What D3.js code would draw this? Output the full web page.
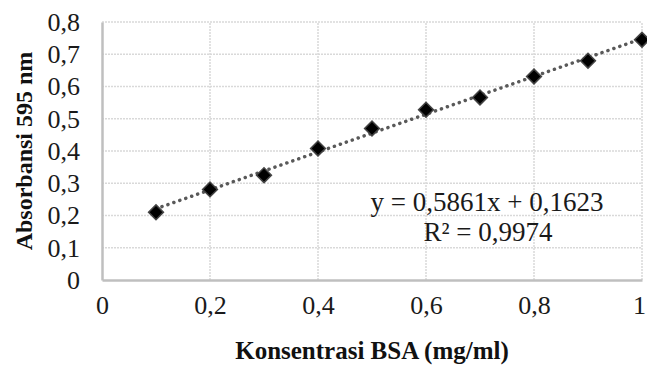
<!DOCTYPE html>
<html><head><meta charset="utf-8">
<script src="https://cdn.jsdelivr.net/npm/d3@7"></script>
<style>body{margin:0;background:#fff;font-family:"Liberation Serif",serif}</style>
</head><body>
<svg id="c" width="647" height="367" font-family="Liberation Serif"></svg>
<script>
const xValues = [0.1,0.2,0.3,0.4,0.5,0.6,0.7,0.8,0.9,1.0];
const yValues = [0.21,0.281,0.325,0.408,0.47,0.528,0.566,0.631,0.68,0.745];
const xTicks = [0,0.2,0.4,0.6,0.8,1];
const yTicks = [0,0.1,0.2,0.3,0.4,0.5,0.6,0.7,0.8];
const slope = 0.5861, intercept = 0.1623;
const eqLabel = "y = 0,5861x + 0,1623";
const r2Label = "R² = 0,9974";
const xTitle = "Konsentrasi BSA (mg/ml)";
const yTitle = "Absorbansi 595 nm";

const FONT = "'Liberation Serif', 'Times New Roman', serif";
const svg = d3.select("#c");
const m = {l:102, r:5, t:22, b:87};
const W = 647, H = 367;
const x = d3.scaleLinear().domain([0,1]).range([m.l, W-m.r]);
const y = d3.scaleLinear().domain([0,0.8]).range([H-m.b, m.t]);
const fmt = d => d===0 ? "0" : (d===1 ? "1" : d3.format(".1f")(d).replace(".",","));

// grid
svg.append("g").selectAll("line").data(yTicks.filter(d=>d>0)).join("line")
  .attr("x1",x(0)).attr("x2",x(1)).attr("y1",d=>y(d)).attr("y2",d=>y(d))
  .attr("stroke","#d9d9d9").attr("stroke-width",1.5).attr("stroke-dasharray","2,1");
svg.append("g").selectAll("line").data(xTicks.filter(d=>d>0)).join("line")
  .attr("y1",y(0)).attr("y2",y(0.8)).attr("x1",d=>x(d)).attr("x2",d=>x(d))
  .attr("stroke","#d9d9d9").attr("stroke-width",1.5).attr("stroke-dasharray","2,1");

// axes
const xa = svg.append("g").attr("transform",`translate(0,${y(0)})`)
  .call(d3.axisBottom(x).tickValues(xTicks).tickFormat(fmt).tickSize(0).tickPadding(16));
const ya = svg.append("g").attr("transform",`translate(${x(0)},0)`)
  .call(d3.axisLeft(y).tickValues(yTicks).tickFormat(fmt).tickSize(0).tickPadding(22));
[xa,ya].forEach(a=>{
  a.attr("font-family",null).attr("font-size",null);
  a.select(".domain").attr("stroke","#bfbfbf").attr("stroke-width",2.5);
  a.selectAll("text").attr("fill","#1a1a1a").style("font-size","26px");
});
xa.selectAll(".tick text").filter(d=>d===1).attr("dx",-3);

// trendline
svg.append("line")
  .attr("x1",x(xValues[0])).attr("y1",y(slope*xValues[0]+intercept))
  .attr("x2",x(xValues[xValues.length-1])).attr("y2",y(slope*xValues[xValues.length-1]+intercept))
  .attr("stroke","#595959").attr("stroke-width",3.5).attr("stroke-linecap","round")
  .attr("stroke-dasharray","0.1,6.2");

// markers
svg.append("g").selectAll("path").data(xValues.map((d,i)=>[d,yValues[i]])).join("path")
  .attr("d", d3.symbol(d3.symbolSquare, 110))
  .attr("transform", d=>`translate(${x(d[0])},${y(d[1])}) rotate(45)`)
  .attr("fill","#000").attr("stroke","#444").attr("stroke-width",1.5);

// equation
const eq = svg.append("text").style("font-size","27px").attr("fill","#1a1a1a")
  .attr("text-anchor","middle");
eq.append("tspan").attr("x",487).attr("y",211).text(eqLabel);
eq.append("tspan").attr("x",488).attr("y",241).text(r2Label);

// titles
svg.append("text").attr("x",(x(0)+x(1))/2).attr("y",359).attr("text-anchor","middle")
  .style("font-size","25px").attr("font-weight","bold").attr("fill","#111").text(xTitle);
svg.append("text").attr("transform",`translate(32,${(y(0)+y(0.8))/2}) rotate(-90)`).attr("text-anchor","middle")
  .style("font-size","24px").attr("font-weight","bold").attr("fill","#111").text(yTitle);

svg.selectAll("text").style("font-family", FONT, "important");
</script>
</body></html>
